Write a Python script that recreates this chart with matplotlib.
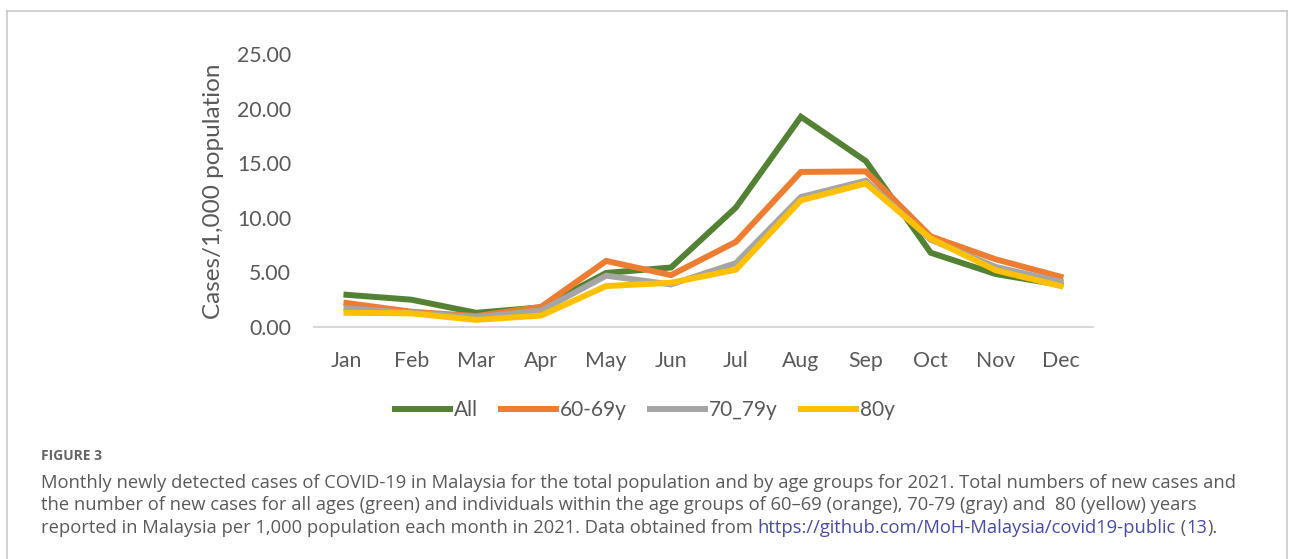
#!/usr/bin/env python3

import matplotlib
matplotlib.use("Agg")
import matplotlib.pyplot as plt
from matplotlib.lines import Line2D

# monthly new cases per 1,000 population, Malaysia 2021
months = ["Jan", "Feb", "Mar", "Apr", "May", "Jun",
          "Jul", "Aug", "Sep", "Oct", "Nov", "Dec"]
all_ages = [2.95, 2.5, 1.3, 1.8, 4.95, 5.45, 10.95, 19.25, 15.2, 6.8, 4.85, 3.85]
age_60_69 = [2.2, 1.4, 1.0, 1.85, 6.05, 4.75, 7.8, 14.2, 14.25, 8.3, 6.2, 4.6]
age_70_79 = [1.7, 1.3, 0.9, 1.5, 4.7, 3.9, 5.85, 11.9, 13.4, 8.0, 5.5, 4.15]
age_80 = [1.3, 1.25, 0.65, 1.05, 3.75, 4.05, 5.25, 11.6, 13.15, 8.1, 5.2, 3.75]

series = [("All", all_ages, "#548235"),
          ("60-69y", age_60_69, "#ED7D31"),
          ("70_79y", age_70_79, "#A5A5A5"),
          ("80y", age_80, "#FFC000")]

yticks = [0, 5, 10, 15, 20, 25]

caption_title = "FIGURE 3"
caption_lines = [
    "Monthly newly detected cases of COVID-19 in Malaysia for the total population and by age groups for 2021. Total numbers of new cases and",
    "the number of new cases for all ages (green) and individuals within the age groups of 60\u201369 (orange), 70-79 (gray) and  80 (yellow) years",
]
caption_last = "reported in Malaysia per 1,000 population each month in 2021. Data obtained from "
link_text = "https://github.com/MoH-Malaysia/covid19-public"
ref_text = "13"

W, H = 1293, 559
text_gray = "#595959"
cap_gray = "#5a5a5a"
link_col = "#4a4aa8"

fig = plt.figure(figsize=(W / 100, H / 100), dpi=100)

# plot area in pixels: x 314..1093, y 54..327
ax = fig.add_axes([314 / W, 1 - 327 / H, 779 / W, 273 / H])

x = list(range(len(months)))
for name, vals, col in series:
    ax.plot(x, vals, color=col, linewidth=4.3, label=name, solid_joinstyle="miter")

ax.set_xlim(-0.5, len(months) - 0.5)
ax.set_ylim(0, 25)
ax.set_xticks(x)
ax.set_xticklabels(months)
ax.set_yticks(yticks)
ax.set_yticklabels(["%.2f" % v for v in yticks])
ax.tick_params(axis="both", length=0, labelsize=15.3, labelcolor=text_gray)
ax.tick_params(axis="y", pad=16.5)
ax.tick_params(axis="x", pad=17)
for lab in ax.get_xticklabels() + ax.get_yticklabels():
    lab.set_family("Lato")

for s in ["left", "right", "top"]:
    ax.spines[s].set_visible(False)
ax.spines["bottom"].set_color("#d9d9d9")
ax.spines["bottom"].set_linewidth(1.5)

fig.text(213 / W, 1 - 191 / H, "Cases/1,000 population", rotation=90,
         ha="center", va="center", fontsize=17.5, color=text_gray, family="Lato")

leg = fig.legend(loc="center", bbox_to_anchor=(645 / W, 1 - 410 / H), ncol=4,
                 frameon=False, handlelength=2.64, handletextpad=0.2,
                 columnspacing=1.1, prop={"family": "Lato", "size": 15})
for t in leg.get_texts():
    t.set_color(text_gray)

# outer frame of the figure panel
frame = "#c8c8c8"
fig.add_artist(Line2D([7 / W, 7 / W], [0, 1 - 11 / H], color=frame, lw=1.2, transform=fig.transFigure))
fig.add_artist(Line2D([7 / W, 1287 / W], [1 - 11 / H, 1 - 11 / H], color=frame, lw=1.2, transform=fig.transFigure))
fig.add_artist(Line2D([1287 / W, 1287 / W], [0, 1 - 11 / H], color=frame, lw=1.2, transform=fig.transFigure))

# caption
cap_font = "Open Sans"
cap_size = 13.2
fig.text(41 / W, 1 - 460 / H, caption_title, fontsize=10, color="#666666",
         family=cap_font, fontweight="bold", va="baseline")
baselines = [488, 510.5]
for y, line in zip(baselines, caption_lines):
    fig.text(41 / W, 1 - y / H, line, fontsize=cap_size, color=cap_gray,
             family=cap_font, va="baseline")

renderer = fig.canvas.get_renderer()
parts = [(caption_last, cap_gray), (link_text, link_col), (" (", cap_gray),
         (ref_text, link_col), (").", cap_gray)]
xpos = 41
for txt, col in parts:
    t = fig.text(xpos / W, 1 - 533 / H, txt, fontsize=cap_size, color=col,
                 family=cap_font, va="baseline")
    bb = t.get_window_extent(renderer=renderer)
    xpos += bb.width

fig.savefig("out.png", dpi=100)
